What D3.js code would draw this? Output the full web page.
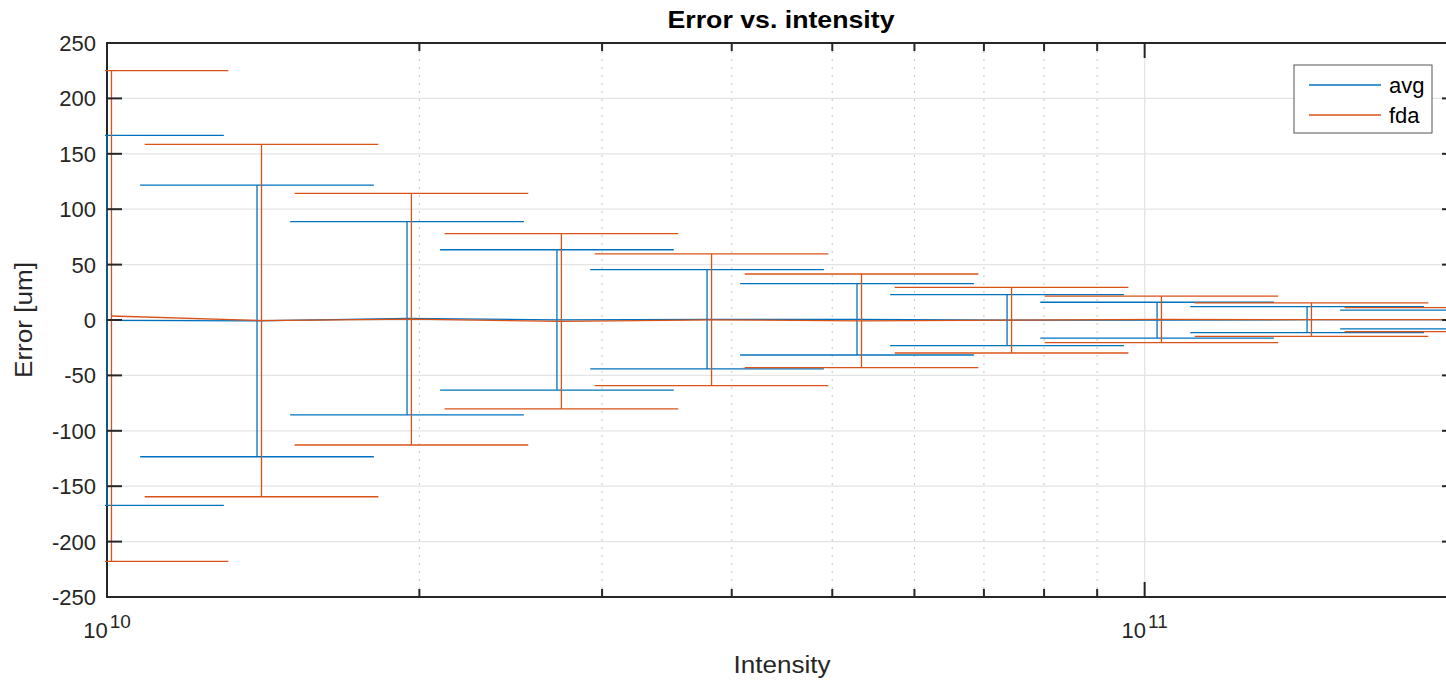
<!DOCTYPE html>
<html>
<head>
<meta charset="utf-8">
<script src="https://cdn.jsdelivr.net/npm/d3@7"></script>
<style>
  body { margin: 0; background: #fff; }
  svg { display: block; font-family: "Liberation Sans", Arial, Helvetica, sans-serif; }
</style>
</head>
<body>
<svg id="chart" width="1446" height="680"></svg>
<script>
// ---- data ----
const seriesNames = ["avg", "fda"];

// intensity of each measurement point
const intensityAvg = [1.000e10, 1.395e10, 1.946e10, 2.714e10, 3.787e10, 5.282e10, 7.369e10, 1.028e11, 1.434e11, 2.000e11];
const intensityFda = [1.010e10, 1.409e10, 1.965e10, 2.741e10, 3.825e10, 5.335e10, 7.443e10, 1.038e11, 1.448e11, 2.020e11];

// mean error [um] and half-width of the error bar [um]
const meanAvg = [-0.3, -0.8, 1.5, 0.1, 0.6, 0.6, -0.1, -0.2, 0.3, 0.4];
const spreadAvg = [167, 122.6, 87.2, 63.3, 44.8, 32.2, 23, 16.2, 11.7, 8.5];
const meanFda = [3.6, -0.5, 0.7, -1.2, 0.2, -0.7, -0.2, 0.5, 0.4, 0.3];
const spreadFda = [221.5, 159, 113.5, 79.1, 59.5, 42.2, 29.6, 21, 15.1, 10.8];

// caps run from x / capRatio to x * capRatio
const capRatio = 1.296;

const xDomain = [1e10, 2e11];
const yTicks = [-250, -200, -150, -100, -50, 0, 50, 100, 150, 200, 250];
const xMajorTicks = [1e10, 1e11];
const xMinorTicks = [2e10, 3e10, 4e10, 5e10, 6e10, 7e10, 8e10, 9e10, 2e11];

const colors = ["#0072BD", "#D95319"];

// ---- layout ----
const svg = d3.select("#chart");
const margin = {top: 43, right: -11, bottom: 83, left: 107};
const W = 1446, H = 680;
const width = W - margin.left - margin.right;
const height = H - margin.top - margin.bottom;

const x = d3.scaleLog().domain(xDomain).range([0, width]);
const y = d3.scaleLinear().domain([-250, 250]).range([height, 0]);

const g = svg.append("g").attr("transform", `translate(${margin.left},${margin.top})`);

// grid
g.append("g").selectAll("line").data(yTicks.slice(1, -1)).enter().append("line")
  .attr("x1", 0).attr("x2", width)
  .attr("y1", d => y(d)).attr("y2", d => y(d))
  .attr("stroke", "#e4e4e4").attr("stroke-width", 1.3);

g.append("g").selectAll("line").data(xMinorTicks).enter().append("line")
  .attr("x1", d => x(d)).attr("x2", d => x(d))
  .attr("y1", 0).attr("y2", height)
  .attr("stroke", "#cfcfcf").attr("stroke-width", 1.2)
  .attr("stroke-dasharray", "2,6");

g.append("g").selectAll("line").data(xMajorTicks.slice(1)).enter().append("line")
  .attr("x1", d => x(d)).attr("x2", d => x(d))
  .attr("y1", 0).attr("y2", height)
  .attr("stroke", "#e4e4e4").attr("stroke-width", 1.3);

// frame
g.append("rect")
  .attr("x", 0).attr("y", 0).attr("width", width).attr("height", height)
  .attr("fill", "none").attr("stroke", "#262626").attr("stroke-width", 2);

// data
svg.append("defs").append("clipPath").attr("id", "plotClip")
  .append("rect").attr("x", -2).attr("y", -1).attr("width", width + 4).attr("height", height + 2);

const series = [
  {name: seriesNames[0], xs: intensityAvg, ys: meanAvg, es: spreadAvg, color: colors[0]},
  {name: seriesNames[1], xs: intensityFda, ys: meanFda, es: spreadFda, color: colors[1]}
];

const dataG = g.append("g").attr("clip-path", "url(#plotClip)");

series.forEach(s => {
  const pts = s.xs.map((xv, i) => ({x: xv, y: s.ys[i], e: s.es[i]}));
  const sg = dataG.append("g").attr("stroke", s.color).attr("stroke-width", 1.3).attr("fill", "none");

  // vertical bars
  sg.selectAll(".bar").data(pts).enter().append("line")
    .attr("x1", d => x(d.x)).attr("x2", d => x(d.x))
    .attr("y1", d => y(d.y - d.e)).attr("y2", d => y(d.y + d.e));

  // caps
  const caps = pts.flatMap(d => [{x: d.x, v: d.y + d.e}, {x: d.x, v: d.y - d.e}]);
  sg.selectAll(".cap").data(caps).enter().append("line")
    .attr("x1", d => x(d.x / capRatio)).attr("x2", d => x(d.x * capRatio))
    .attr("y1", d => y(d.v)).attr("y2", d => y(d.v));

  // connecting line
  sg.append("path")
    .attr("d", d3.line().x(d => x(d.x)).y(d => y(d.y))(pts));
});

// ticks
const tickG = g.append("g").attr("stroke", "#262626").attr("stroke-width", 2);
yTicks.forEach(t => {
  tickG.append("line").attr("x1", 0).attr("x2", 15).attr("y1", y(t)).attr("y2", y(t));
  tickG.append("line").attr("x1", width - 15).attr("x2", width).attr("y1", y(t)).attr("y2", y(t));
});
xMajorTicks.forEach(t => {
  tickG.append("line").attr("x1", x(t)).attr("x2", x(t)).attr("y1", height).attr("y2", height - 15);
  tickG.append("line").attr("x1", x(t)).attr("x2", x(t)).attr("y1", 0).attr("y2", 15);
});
xMinorTicks.forEach(t => {
  tickG.append("line").attr("x1", x(t)).attr("x2", x(t)).attr("y1", height).attr("y2", height - 8);
  tickG.append("line").attr("x1", x(t)).attr("x2", x(t)).attr("y1", 0).attr("y2", 8);
});

// y tick labels
g.append("g").selectAll("text").data(yTicks).enter().append("text")
  .attr("x", -11).attr("y", d => y(d)).attr("dy", "0.36em")
  .attr("text-anchor", "end").attr("font-size", 22).attr("fill", "#262626")
  .text(d => d);

// x tick labels 10^n
const xl = g.append("g").selectAll("text").data(xMajorTicks).enter().append("text")
  .attr("x", d => x(d)).attr("y", height + 41)
  .attr("text-anchor", "middle").attr("fill", "#262626");
xl.append("tspan").attr("font-size", 22).text("10");
xl.append("tspan").attr("font-size", 19).attr("dx", 2).attr("dy", -10)
  .text(d => Math.round(Math.log10(d)));

// axis labels and title
svg.append("text")
  .attr("x", margin.left + width / 2).attr("y", 673)
  .attr("text-anchor", "middle").attr("font-size", 23).attr("fill", "#262626")
  .attr("textLength", 97).attr("lengthAdjust", "spacingAndGlyphs")
  .text("Intensity");

svg.append("text")
  .attr("transform", `translate(32,${margin.top + y(0)}) rotate(-90)`)
  .attr("text-anchor", "middle").attr("font-size", 23).attr("fill", "#262626")
  .attr("textLength", 116).attr("lengthAdjust", "spacingAndGlyphs")
  .text("Error [um]");

svg.append("text")
  .attr("x", 781).attr("y", 28)
  .attr("text-anchor", "middle").attr("font-size", 24).attr("font-weight", "bold").attr("fill", "#000")
  .attr("textLength", 227).attr("lengthAdjust", "spacingAndGlyphs")
  .text("Error vs. intensity");

// legend
const lg = svg.append("g").attr("transform", "translate(1294,65)");
lg.append("rect").attr("width", 138).attr("height", 68)
  .attr("fill", "#fff").attr("stroke", "#555").attr("stroke-width", 1);
series.forEach((s, i) => {
  lg.append("line").attr("x1", 15).attr("x2", 87)
    .attr("y1", 20 + i * 30).attr("y2", 20 + i * 30)
    .attr("stroke", s.color).attr("stroke-width", 1.3);
  lg.append("text").attr("x", 95).attr("y", 28 + i * 30)
    .attr("font-size", 22).attr("fill", "#000").text(s.name);
});
</script>
</body>
</html>
